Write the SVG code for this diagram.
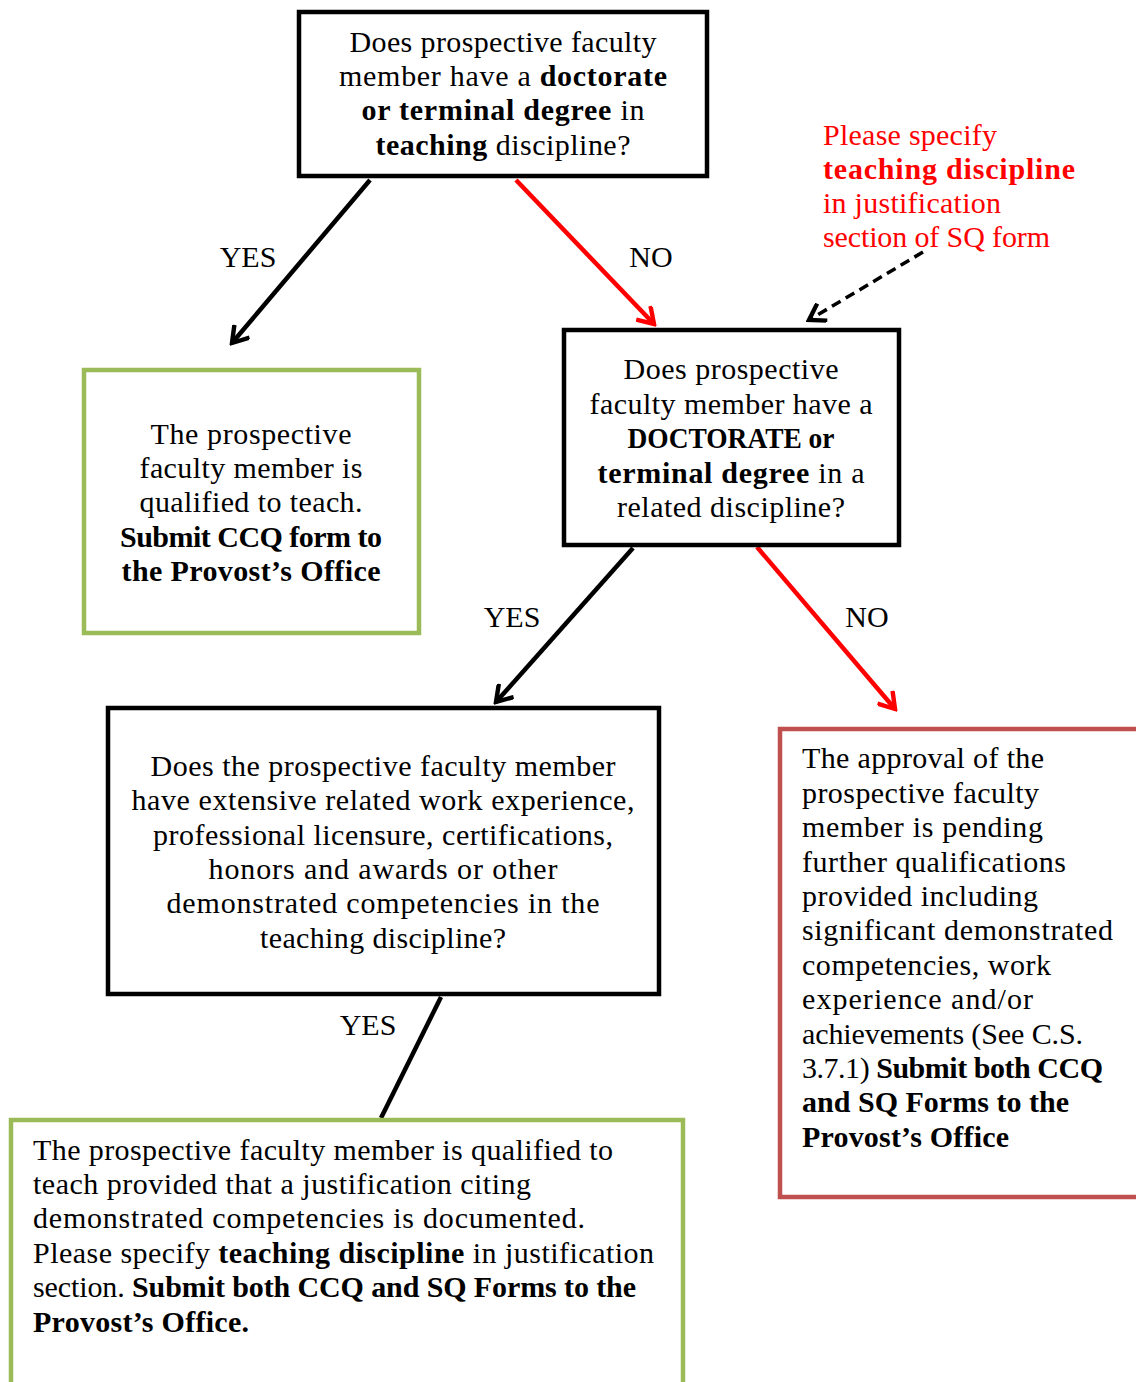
<svg xmlns="http://www.w3.org/2000/svg" width="1136" height="1382" viewBox="0 0 1136 1382">
<defs>
<style>
text{font-family:"Liberation Serif","DejaVu Serif",serif;font-size:30px;fill:#000}
.b{font-weight:bold}
.c{text-anchor:middle}
.red{fill:#ff0000}
.box{fill:#fff;stroke:#000;stroke-width:4.5}
.green{fill:#fff;stroke:#9bbb59;stroke-width:4.5}
.rbox{fill:#fff;stroke:#c0504d;stroke-width:4.5}
.blk{stroke:#000;stroke-width:4.5;fill:none}
.rl{stroke:#ff0000;stroke-width:4.5;fill:none}
.dash{stroke:#000;stroke-width:3.5;fill:none;stroke-dasharray:10 6}
</style>
<marker id="ab" viewBox="0 0 20 20" refX="17" refY="10" markerWidth="22" markerHeight="22" markerUnits="userSpaceOnUse" orient="auto">
<path d="M3,1 L17,10 L3,19" fill="none" stroke="#000" stroke-width="4"/>
</marker>
<marker id="ar" viewBox="0 0 20 20" refX="17" refY="10" markerWidth="22" markerHeight="22" markerUnits="userSpaceOnUse" orient="auto">
<path d="M3,1 L17,10 L3,19" fill="none" stroke="#ff0000" stroke-width="4"/>
</marker>
</defs>
<rect width="1136" height="1382" fill="#fff"/>

<g id="connectors">
<line class="blk" x1="370" y1="180" x2="232" y2="343" marker-end="url(#ab)"/>
<line class="rl" x1="516" y1="180" x2="654" y2="324" marker-end="url(#ar)"/>
<line class="dash" x1="923" y1="252" x2="809" y2="320" marker-end="url(#ab)"/>
<line class="blk" x1="633" y1="548" x2="496" y2="702" marker-end="url(#ab)"/>
<line class="rl" x1="757" y1="547" x2="895" y2="709" marker-end="url(#ar)"/>
<line class="blk" x1="441" y1="997" x2="381" y2="1118"/>
<text x="248" y="267" class="c">YES</text>
<text x="651" y="267" class="c">NO</text>
<text x="512" y="627" class="c">YES</text>
<text x="867" y="627" class="c">NO</text>
<text x="368" y="1035" class="c">YES</text>
</g>

<g id="q1">
<rect class="box" x="299" y="12" width="408" height="164"/>
<text x="503" y="52" class="c" textLength="307">Does prospective faculty</text>
<text x="503" y="86" class="c" textLength="328">member have a <tspan class="b">doctorate</tspan></text>
<text x="503" y="120" class="c" textLength="283"><tspan class="b">or terminal degree</tspan> in</text>
<text x="503" y="155" class="c" textLength="255"><tspan class="b">teaching</tspan> discipline?</text>
</g>

<g id="note">
<text x="823" y="145" class="red" textLength="174">Please specify</text>
<text x="823" y="179" class="red b" textLength="252">teaching discipline</text>
<text x="823" y="213" class="red" textLength="178">in justification</text>
<text x="823" y="247" class="red" textLength="227">section of SQ form</text>
</g>

<g id="qualified">
<rect class="green" x="84" y="370" width="335" height="263"/>
<text x="251" y="444" class="c" textLength="201">The prospective</text>
<text x="251" y="478" class="c" textLength="223">faculty member is</text>
<text x="251" y="512" class="c" textLength="223">qualified to teach.</text>
<text x="251" y="547" class="c b" textLength="262">Submit CCQ form to</text>
<text x="251" y="581" class="c b" textLength="259">the Provost’s Office</text>
</g>

<g id="q2">
<rect class="box" x="564" y="330" width="335" height="215"/>
<text x="731" y="379" class="c" textLength="215">Does prospective</text>
<text x="731" y="414" class="c" textLength="283">faculty member have a</text>
<text x="731" y="448" class="c b" textLength="207" lengthAdjust="spacingAndGlyphs">DOCTORATE or</text>
<text x="731" y="483" class="c" textLength="267"><tspan class="b">terminal degree</tspan> in a</text>
<text x="731" y="517" class="c" textLength="228">related discipline?</text>
</g>

<g id="q3">
<rect class="box" x="108" y="708" width="551" height="286"/>
<text x="383" y="776" class="c" textLength="465">Does the prospective faculty member</text>
<text x="383" y="810" class="c" textLength="503">have extensive related work experience,</text>
<text x="383" y="845" class="c" textLength="460">professional licensure, certifications,</text>
<text x="383" y="879" class="c" textLength="349">honors and awards or other</text>
<text x="383" y="913" class="c" textLength="433">demonstrated competencies in the</text>
<text x="383" y="948" class="c" textLength="246">teaching discipline?</text>
</g>

<g id="pending">
<rect class="rbox" x="780" y="729" width="380" height="468"/>
<text x="802" y="768" textLength="242">The approval of the</text>
<text x="802" y="803" textLength="237">prospective faculty</text>
<text x="802" y="837" textLength="241">member is pending</text>
<text x="802" y="872" textLength="264">further qualifications</text>
<text x="802" y="906" textLength="236">provided including</text>
<text x="802" y="940" textLength="311">significant demonstrated</text>
<text x="802" y="975" textLength="249">competencies, work</text>
<text x="802" y="1009" textLength="231">experience and/or</text>
<text x="802" y="1044" textLength="281">achievements (See C.S.</text>
<text x="802" y="1078" textLength="301">3.7.1) <tspan class="b">Submit both CCQ</tspan></text>
<text x="802" y="1112" class="b" textLength="267">and SQ Forms to the</text>
<text x="802" y="1147" class="b" textLength="207">Provost’s Office</text>
</g>

<g id="final">
<rect class="green" x="11" y="1120" width="672" height="290"/>
<text x="33" y="1160" textLength="580">The prospective faculty member is qualified to</text>
<text x="33" y="1194" textLength="498">teach provided that a justification citing</text>
<text x="33" y="1228" textLength="552">demonstrated competencies is documented.</text>
<text x="33" y="1263" textLength="621">Please specify <tspan class="b">teaching discipline</tspan> in justification</text>
<text x="33" y="1297" textLength="603">section. <tspan class="b">Submit both CCQ and SQ Forms to the</tspan></text>
<text x="33" y="1332" class="b" textLength="216">Provost’s Office.</text>
</g>
</svg>
